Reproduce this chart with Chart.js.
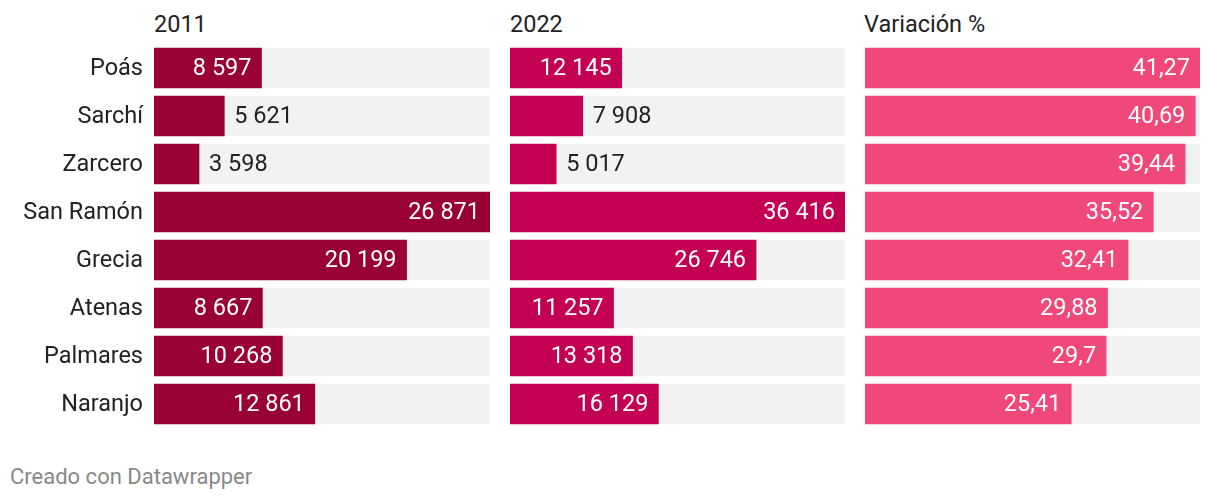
<!DOCTYPE html>
<html><head><meta charset="utf-8">
<script src="https://cdn.jsdelivr.net/npm/chart.js@4/dist/chart.umd.min.js"></script>
<style>
html,body{margin:0;padding:0;background:#fff;}
body{width:1220px;height:500px;position:relative;overflow:hidden;font-family:Roboto,sans-serif;}
.hdr{position:absolute;top:10px;font-size:23.5px;color:#222;line-height:28px;}
.foot{position:absolute;left:10px;top:463px;font-size:22px;color:#888;line-height:28px;}
.cv{position:absolute;top:44px;height:384px;}
</style></head>
<body>
<div class="hdr" style="left:154px">2011</div>
<div class="hdr" style="left:510px">2022</div>
<div class="hdr" style="left:864px">Variación %</div>
<div class="cv" style="left:0;width:490px"><canvas id="c1"></canvas></div>
<div class="cv" style="left:510px;width:335px"><canvas id="c2"></canvas></div>
<div class="cv" style="left:865px;width:335px"><canvas id="c3"></canvas></div>
<div class="foot">Creado con Datawrapper</div>
<script>
const categories = ["Poás","Sarchí","Zarcero","San Ramón","Grecia","Atenas","Palmares","Naranjo"];
const values2011 = [8597,5621,3598,26871,20199,8667,10268,12861];
const values2022 = [12145,7908,5017,36416,26746,11257,13318,16129];
const variacion = [41.27,40.69,39.44,35.52,32.41,29.88,29.7,25.41];

const fmtInt = v => String(v).replace(/\B(?=(\d{3})+(?!\d))/g, " ");
const fmtDec = v => String(v).replace(".", ",");
const formatters = {c1: fmtInt, c2: fmtInt, c3: fmtDec};

const FONT = '23.5px Roboto';
const TEXT = '#222';

const bgPlugin = {
  id:'bgbars',
  beforeDatasetsDraw(chart){
    const ctx = chart.ctx, a = chart.chartArea;
    const meta = chart.getDatasetMeta(0);
    ctx.save();
    ctx.fillStyle = '#f2f2f2';
    meta.data.forEach(b=>{
      ctx.fillRect(a.left, b.y - b.height/2, a.right - a.left, b.height);
    });
    ctx.restore();
  }
};
const labelPlugin = {
  id:'vlabels',
  afterDatasetsDraw(chart){
    const ctx = chart.ctx, a = chart.chartArea;
    const meta = chart.getDatasetMeta(0);
    const fmt = formatters[chart.canvas.id];
    const data = chart.data.datasets[0].data;
    ctx.save();
    ctx.font = FONT;
    ctx.textBaseline = 'middle';
    meta.data.forEach((b,i)=>{
      const t = fmt(data[i]);
      const w = ctx.measureText(t).width;
      const bw = b.x - b.base;
      if (bw > w + 20) {
        ctx.fillStyle = '#fff'; ctx.textAlign = 'right';
        ctx.fillText(t, b.x - 10, b.y + 1);
      } else {
        ctx.fillStyle = TEXT; ctx.textAlign = 'left';
        ctx.fillText(t, b.x + 10, b.y + 1);
      }
      if (chart.canvas.id === 'c1') {
        ctx.fillStyle = TEXT; ctx.textAlign = 'right';
        ctx.fillText(chart.data.labels[i], a.left - 11, b.y + 1);
      }
    });
    ctx.restore();
  }
};

function make(id, vals, color, leftPad){
  new Chart(document.getElementById(id), {
    type:'bar',
    data:{labels:categories, datasets:[{data:vals, backgroundColor:color, barThickness:40, borderWidth:0}]},
    options:{
      indexAxis:'y', responsive:true, maintainAspectRatio:false, animation:false,
      layout:{padding:{left:leftPad, right:0, top:0, bottom:0}},
      plugins:{legend:{display:false}, tooltip:{enabled:false}},
      scales:{
        x:{display:false, min:0, max:Math.max(...vals)},
        y:{display:false}
      }
    },
    plugins:[bgPlugin, labelPlugin]
  });
}
make('c1', values2011, '#990033', 154);
make('c2', values2022, '#c40052', 0);
make('c3', variacion, '#f0487b', 0);
</script>
</body></html>
